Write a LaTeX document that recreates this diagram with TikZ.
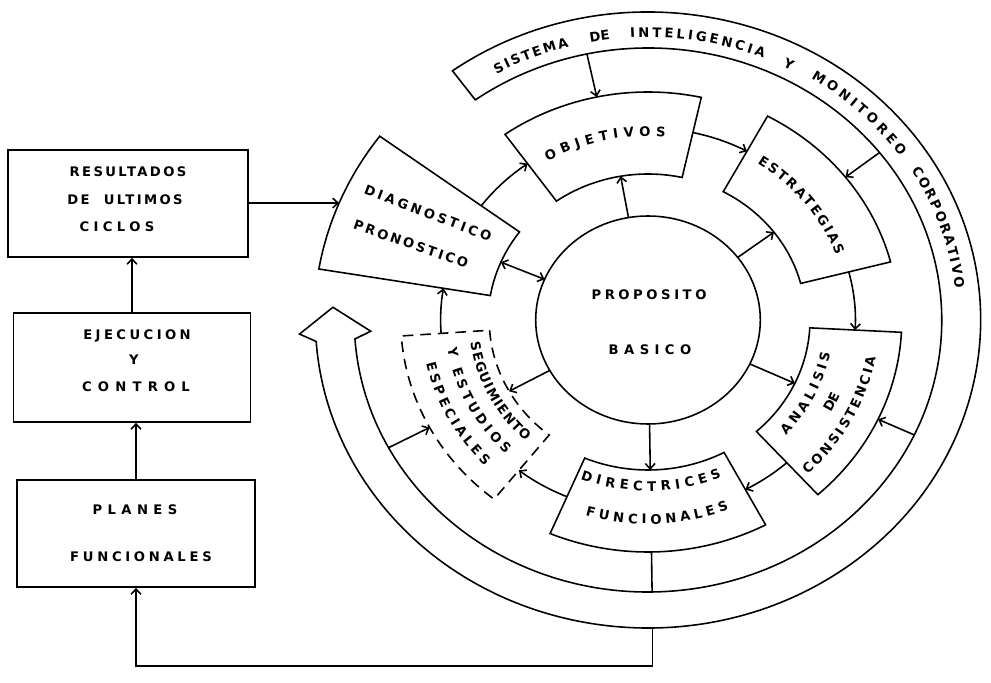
\documentclass[tikz,border=0pt]{standalone}
\usepackage{fontspec}
\usetikzlibrary{arrows.meta,decorations.text}
\newfontfamily\lettering{DejaVu Sans}
\newcommand\labfont{\lettering\bfseries\fontsize{7.5}{9}\selectfont}
% annular sector around the current origin: [style]{from}{to}{inner}{outer}
\newcommand\stagebox[5][]{%
  \draw[#1] (#2:#4) arc[start angle=#2,end angle=#3,radius=#4]
    -- (#3:#5) arc[start angle=#3,end angle=#2,radius=#5] -- cycle;}
% radial connector between two named points on one ray
\newcommand\spoke[5][->]{%
  \coordinate (#2-a) at (#3:#4);
  \coordinate (#2-b) at (#3:#5);
  \draw[#1] (#2-a) -- (#2-b);}
% connector running along the middle of the ring of stages
\newcommand\sweep[3]{%
  \coordinate (#1) at (#2:192);
  \draw[->] (#1) arc[start angle=#2,end angle=#3,radius=192];}
% lettering set along an arc around the centre (648,363)
\newcommand\ringtext[5][fit to path]{%
  \pgfmathsetmacro\rtx{1.08*#2}%
  \path[decorate,decoration={text along path,text={|\labfont|#5},text align=#1}]
    ({648+\rtx*cos(#3)},{363+#2*sin(#3)})
    arc[start angle=#3,end angle=#4,x radius=\rtx,y radius=#2];}

\begin{document}
\begin{tikzpicture}[x=0.02cm,y=0.02cm,line width=0.9pt,
  >={Straight Barb[length=3pt,width=5.5pt]},
  txt/.style={inner sep=0pt,font={\labfont\addfontfeature{LetterSpace=#1}}},
  txt/.default=20,
  blk/.style={draw,inner sep=0pt}]
\fill[white] (0,0) rectangle (991,683);
\useasboundingbox (0,0) rectangle (991,683);

% ---------- left column ----------
\node[blk,minimum width=4.8cm,minimum height=2.14cm] (res) at (128,479.5) {};
\node[blk,minimum width=4.74cm,minimum height=2.18cm] (ejec) at (132,315.5) {};
\node[blk,minimum width=4.76cm,minimum height=2.14cm] (plan) at (136,149.5) {};

\node[txt=18] (res1) at (128,511) {RESULTADOS};
\node[txt=18] (res2) at (125,483) {DE\hspace{8pt}ULTIMOS};
\node[txt=33] (res3) at (117,456) {CICLOS};
\node[txt=26] (ejec1) at (137,347) {EJECUCION};
\node[txt] (ejec2) at (134,323) {Y};
\node[txt=47] (ejec3) at (136,296) {CONTROL};
\node[txt=41] (plan1) at (135,173) {PLANES};
\node[txt=28] (plan2) at (141,126) {FUNCIONALES};

\draw[->] (ejec.north) -- (ejec.north |- res.south);
\draw[->] (plan.north) -- (plan.north |- ejec.south);

% ---------- planning cycle ----------
\begin{scope}[shift={(648,363)},xscale=1.08]
  \coordinate (C) at (0,0);
  \draw (C) circle[radius=104];

  % monitoring band, ending in a hollow arrow
  \draw (126:272) -- (126:308) arc[start angle=126,end angle=-176,radius=308]
    -- (-177.5:323) -- (177.5:292) -- (-177.5:257) -- (-176:272)
    arc[start angle=-176,end angle=126,radius=272] -- cycle;

  % stages
  \stagebox{143.5}{170.5}{148}{309}
  \stagebox{125.5}{77.5}{146}{228}
  \stagebox{61.5}{14.5}{146}{232}
  \stagebox{-3}{-48}{150}{235}
  \stagebox{-62}{-113}{150}{232}
  \stagebox[dash pattern=on 6pt off 4pt]{184}{231.5}{147}{229}

  % from the purpose circle
  \spoke{c-obj}{100}{104}{146}
  \spoke{c-estr}{37}{104}{146}
  \spoke{c-anal}{-25}{104}{150}
  \spoke{c-dir}{-89.2}{104}{150}
  \spoke{c-seg}{209}{104}{147}
  \spoke[<->]{c-diag}{157}{104}{148}

  % from the monitoring band
  \spoke{b-obj}{102}{272}{228}
  \spoke{b-estr}{38}{272}{232}
  \spoke{b-anal}{-25}{272}{235}
  \spoke{b-seg}{208}{272}{229}
  \spoke[-]{d-band}{-89.2}{232}{272}
  \coordinate (fb) at (-89.2:308);

  % stage to stage
  \sweep{t1}{143.5}{125.5}
  \sweep{t2}{77.5}{61.5}
  \sweep{t3}{14.5}{-3}
  \sweep{t4}{-48}{-62}
  \sweep{t5}{-113}{-128.5}
  \sweep{t6}{184}{170.5}

  \coordinate (diag-w) at (157.75:309);
\end{scope}

\draw[->] (res.east |- diag-w) -- (diag-w);
\coordinate (base) at (0,17);
\draw[->] (fb) -- (fb |- base) -| (plan.south);

% ---------- labels ----------
\node[txt=27] (prop1) at (649,388) {PROPOSITO};
\node[txt=41] (prop2) at (650,333) {BASICO};
\node[txt=24,rotate=-21] (diag1) at (428,470) {DIAGNOSTICO};
\node[txt=19,rotate=-19] (diag2) at (411,439) {PRONOSTICO};

\ringtext{184}{120.3}{85}{OBJETIVOS}
\ringtext{186}{57}{20.5}{ESTRATEGIAS}
\ringtext{172}{-42}{-11}{ANALISIS}
\ringtext[center]{193}{-31}{-20.5}{DE}
\ringtext{214}{-46.3}{-10}{CONSISTENCIA}
\ringtext{171}{-111.5}{-66.5}{DIRECTRICES}
\ringtext{204}{-106.5}{-68.5}{FUNCIONALES}
\ringtext{166}{187.8}{227}{SEGUIMIENTO}
\ringtext{188}{188.8}{225.5}{Y ESTUDIOS}
\ringtext{210}{192}{224}{ESPECIALES}

\ringtext{283}{119.7}{105}{SISTEMA}
\ringtext[center]{283}{103}{95}{DE}
\ringtext{283}{93.3}{67.8}{INTELIGENCIA}
\node[txt,rotate=-25] (y-band) at (789,619) {Y};
\ringtext{285}{58}{35}{MONITOREO}
\ringtext{286}{31.5}{6.3}{CORPORATIVO}
\end{tikzpicture}
\end{document}
